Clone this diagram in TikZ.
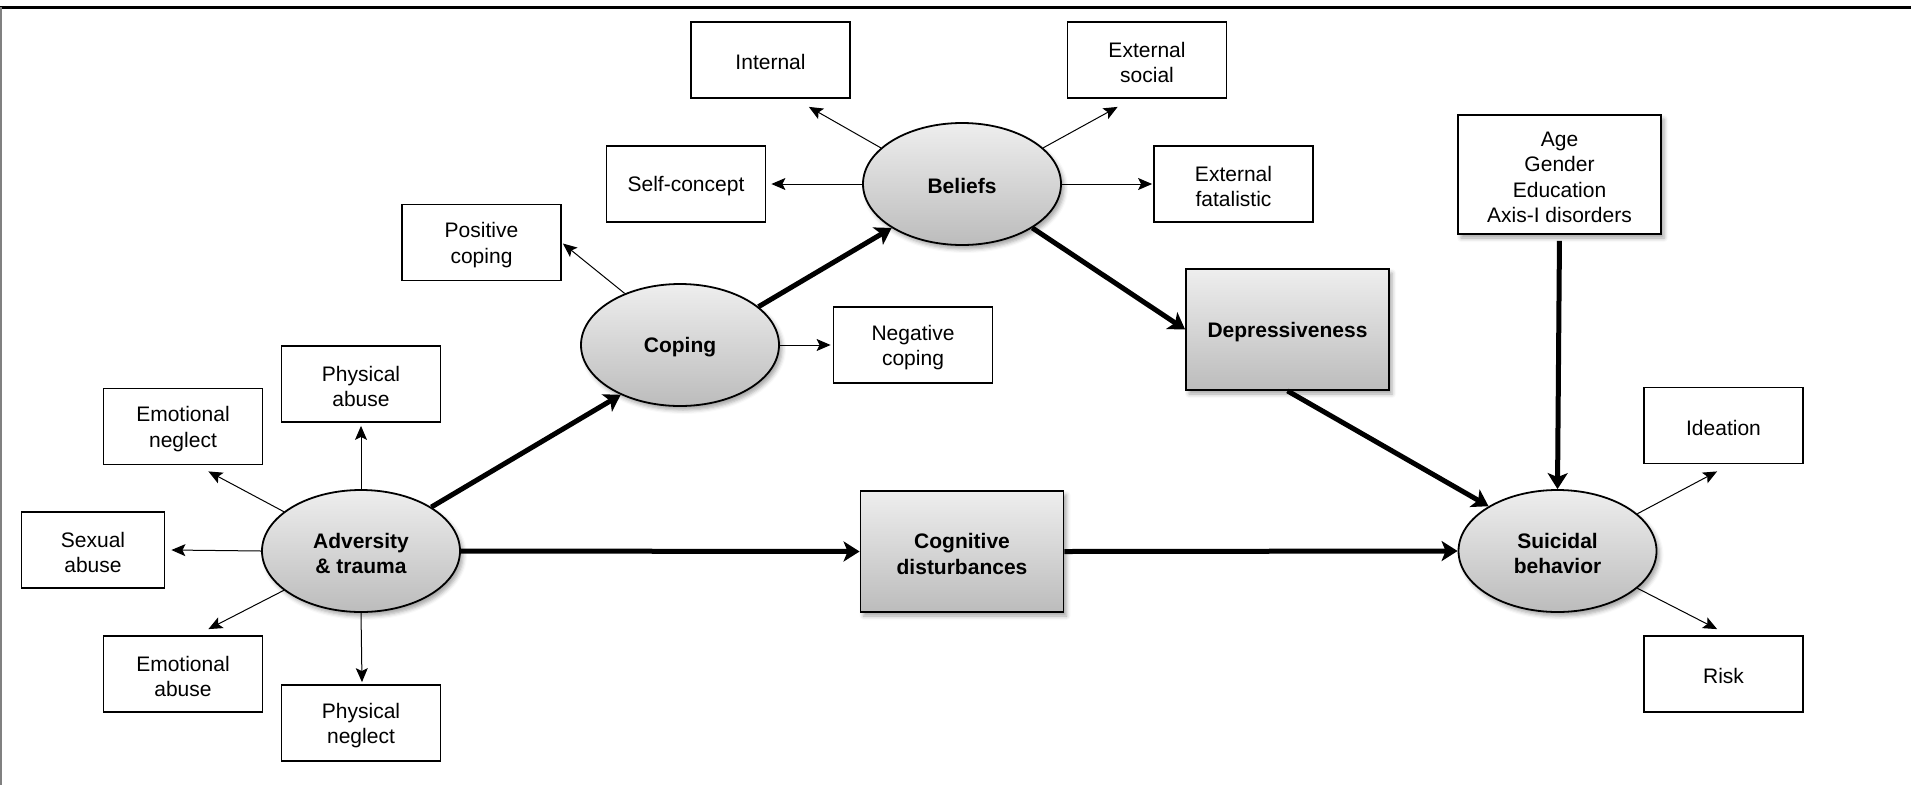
\documentclass[tikz,border=0pt]{standalone}
\usepackage{fontspec}
\setmainfont{Liberation Sans}
\usetikzlibrary{arrows.meta,shapes.geometric,shadows.blur}
\definecolor{shtop}{RGB}{238,238,238}
\definecolor{shbot}{RGB}{188,188,188}
\tikzset{
  txt/.style={font=\fontsize{21}{25.6}\selectfont, align=center},
  btxt/.style={font=\fontsize{21}{25.6}\selectfont\bfseries, align=center},
  tlone/.style={text height=20pt},
  tltwo/.style={text height=45.6pt},
  tlfour/.style={text height=96.8pt},
  softshadow/.style={blur shadow={shadow xshift=3pt, shadow yshift=-4pt, shadow blur radius=4pt, shadow opacity=35}},
  smallbox/.style={txt, draw, line width=1.8pt, fill=white, minimum width=159, minimum height=76, inner sep=0},
  bigbox/.style={btxt, draw, line width=1.8pt, minimum width=203, minimum height=121, inner sep=0,
    top color=shtop, bottom color=shbot, softshadow},
  agebox/.style={txt, draw, line width=1.8pt, fill=white, minimum width=203, minimum height=119, inner sep=0, softshadow},
  mainell/.style={btxt, ellipse, draw, line width=1.8pt, minimum width=198, minimum height=122, inner sep=0,
    top color=shtop, bottom color=shbot, softshadow},
  thinarrow/.style={line width=1pt, -{Stealth[length=14pt,width=12pt,inset=3pt]}},
  strongarrow/.style={line width=5pt, -{Stealth[length=16pt,width=20pt,inset=4pt]}},
}
\begin{document}
\begin{tikzpicture}[x=1pt,y=-1pt]
\useasboundingbox (0,0) rectangle (1911,785);
\draw[line width=3pt] (0,7) -- (1911,7);
\draw[gray, line width=1.5pt] (0.75,7) -- (0.75,785);

% small boxes
\node[smallbox, tlone] (int) at (770.5,60) {Internal};
\node[smallbox, tltwo] (exs) at (1147,60) {External\\social};
\node[smallbox, tlone] (sco) at (686,184) {Self-concept};
\node[smallbox, tltwo] (exf) at (1233.5,184) {External\\fatalistic};
\node[smallbox, tltwo] (pco) at (481.5,242.5) {Positive\\coping};
\node[smallbox, tltwo] (nco) at (913,345) {Negative\\coping};
\node[smallbox, tltwo] (pab) at (361,384) {Physical\\abuse};
\node[smallbox, tltwo] (emn) at (183,426.5) {Emotional\\neglect};
\node[smallbox, tltwo, minimum width=143] (sab) at (93,550) {Sexual\\abuse};
\node[smallbox, tltwo] (ema) at (183,674) {Emotional\\abuse};
\node[smallbox, tltwo] (pne) at (361,723) {Physical\\neglect};
\node[smallbox, tlone] (ide) at (1723.5,425.5) {Ideation};
\node[smallbox, tlone] (risk) at (1723.5,674) {Risk};

% main nodes
\node[mainell, tlone] (bel) at (962,184) {Beliefs};
\node[mainell, tlone] (cop) at (680,345) {Coping};
\node[mainell, tltwo] (adv) at (361,551) {Adversity\\\& trauma};
\node[mainell, tltwo] (sui) at (1557.5,551) {Suicidal\\behavior};
\node[bigbox, tlone] (dep) at (1287.5,329.5) {Depressiveness};
\node[bigbox, tltwo] (cog) at (962,551.5) {Cognitive\\disturbances};
\node[agebox, tlfour] (age) at (1559.5,174.5) {Age\\Gender\\Education\\Axis-I disorders};

% thin arrows
\draw[thinarrow] (adv.north) -- ([shift={(0,3)}]pab.south);
\draw[thinarrow] (adv.153) -- ([shift={(-55,6)}]emn.south east);
\draw[thinarrow] (adv.west) -- ([shift={(6,0)}]sab.east);
\draw[thinarrow] (adv.207) -- ([shift={(-55,-6)}]ema.north east);
\draw[thinarrow] (adv.south) -- ([shift={(1,-2)}]pne.north);
\draw[thinarrow] (cop.137) -- ([shift={(1,1)}]pco.east);
\draw[thinarrow] (cop.east) -- ([shift={(-2,0)}]nco.west);
\draw[thinarrow] (bel.west) -- ([shift={(5,0)}]sco.east);
\draw[thinarrow] (bel.156) -- ([shift={(-42,8)}]int.south east);
\draw[thinarrow] (bel.24) -- ([shift={(51,8)}]exs.south west);
\draw[thinarrow] (bel.east) -- ([shift={(-1,0)}]exf.west);
\draw[thinarrow] (sui.25) -- ([shift={(74,7)}]ide.south west);
\draw[thinarrow] (sui.335) -- ([shift={(74,-6)}]risk.north west);

% strong arrows
\draw[strongarrow] (adv.32) -- (cop.220);
\draw[strongarrow] (cop.26) -- (bel.212);
\draw[strongarrow] (bel.328) -- (dep.west);
\draw[strongarrow] (dep.south) -- (sui.147);
\draw[strongarrow] (adv.east) -- (cog.west);
\draw[strongarrow] (cog.east) -- (sui.west);
\draw[strongarrow, shorten <=6pt] (age.south) -- (sui.north);
\end{tikzpicture}
\end{document}
